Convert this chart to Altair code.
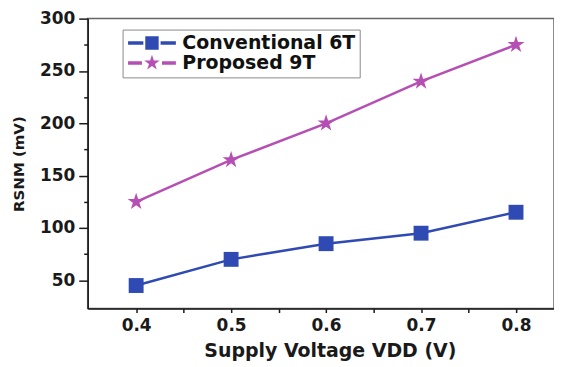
import altair as alt
import pandas as pd

# ---- data ----
vdd = [0.4, 0.5, 0.6, 0.7, 0.8]
conv_6t = [45, 70, 85, 95, 115]
prop_9t = [125, 165, 200, 240, 275]
series = ["Conventional 6T", "Proposed 9T"]
colors = ["#2F4BB3", "#B64FB3"]
x_ticks = [0.4, 0.5, 0.6, 0.7, 0.8]
x_minor = [0.45, 0.55, 0.65, 0.75]
y_ticks = [50, 100, 150, 200, 250, 300]
y_minor = [75, 125, 175, 225, 275]

df = pd.DataFrame({
    "vdd": vdd * 2,
    "rsnm": conv_6t + prop_9t,
    "series": [series[0]] * len(vdd) + [series[1]] * len(vdd),
})

FONT = "DejaVu Sans"

# marker shapes (custom SVG paths)
square = "M-0.83,-0.83H0.83V0.83H-0.83Z"
star = ("M0,-1L0.2245,-0.309L0.951,-0.309L0.363,0.118L0.588,0.809L0,0.382"
        "L-0.588,0.809L-0.363,0.118L-0.951,-0.309L-0.2245,-0.309Z")
# legend symbols: dash - marker - dash (unit = 8px, drawn to the right)
leg_square = ("M-1,-0.21H0.92V0.21H-1Z M3.08,-0.21H5V0.21H3.08Z "
              "M1.16,-0.84H2.84V0.84H1.16Z")
leg_star = ("M-1,-0.21H0.74V0.21H-1Z M3.26,-0.21H5V0.21H3.26Z "
            "M2,-1.02L2.229,-0.315L2.969,-0.315L2.37,0.12L2.6,0.825L2,0.39"
            "L1.4,0.825L1.63,0.12L1.031,-0.315L1.771,-0.315Z")

xscale = alt.Scale(domain=[0.349, 0.84], nice=False, zero=False)
yscale = alt.Scale(domain=[23, 300], nice=False, zero=False)
cscale = alt.Scale(domain=series, range=colors)

axis_common = dict(
    labelFont=FONT, labelFontWeight="bold", labelFontSize=17, labelColor="#1a1a1a",
    titleFont=FONT, titleFontWeight="bold", titleColor="#1a1a1a",
    domainColor="#1a1a1a", domainWidth=1.5, tickColor="#1a1a1a", tickWidth=1.5,
    grid=False,
)

x_major = alt.Axis(values=x_ticks, format=".1f", tickSize=4, labelPadding=5,
                   title="Supply Voltage VDD (V)", titleFontSize=19, titlePadding=8,
                   titleX=243, titleAlign="center",
                   orient="bottom", **axis_common)
y_major = alt.Axis(values=y_ticks, tickSize=9, labelPadding=4,
                   title="RSNM (mV)", titleFontSize=15, titlePadding=13,
                   orient="left", **axis_common)
x_min_axis = alt.Axis(values=x_minor, tickSize=4, labels=False, domain=False,
                      title=None, orient="bottom", grid=False,
                      tickColor="#1a1a1a", tickWidth=1.5)
y_min_axis = alt.Axis(values=y_minor, tickSize=4, labels=False, domain=False,
                      title=None, orient="left", grid=False,
                      tickColor="#1a1a1a", tickWidth=1.5)

base = alt.Chart(df)

lines = base.mark_line(strokeWidth=2.5).encode(
    x=alt.X("vdd:Q", scale=xscale, axis=x_major),
    y=alt.Y("rsnm:Q", scale=yscale, axis=y_major),
    color=alt.Color("series:N", scale=cscale, legend=None),
    detail="series:N",
)

points = base.mark_point(filled=True, opacity=1, size=324).encode(
    x=alt.X("vdd:Q", scale=xscale, axis=x_min_axis),
    y=alt.Y("rsnm:Q", scale=yscale, axis=y_min_axis),
    color=alt.Color("series:N", scale=cscale, legend=None),
    shape=alt.Shape("series:N", scale=alt.Scale(domain=series, range=[square, star]),
                    legend=None),
)

legend_props = dict(
    title=None, orient="none", legendX=35, legendY=11,
    symbolSize=256, labelFont=FONT, labelFontSize=19, labelFontWeight="bold",
    labelColor="#111111", strokeColor="#8a8a8a", fillColor="white",
    padding=4, rowPadding=0, labelOffset=37, symbolStrokeWidth=0,
    symbolOpacity=1, labelLimit=0,
)

legend_layer = base.transform_filter("false").mark_point(
    filled=True, opacity=1, size=256
).encode(
    x=alt.X("vdd:Q", scale=xscale, axis=None),
    y=alt.Y("rsnm:Q", scale=yscale, axis=None),
    color=alt.Color("series:N", scale=cscale, legend=alt.Legend(**legend_props)),
    shape=alt.Shape("series:N",
                    scale=alt.Scale(domain=series, range=[leg_square, leg_star]),
                    legend=alt.Legend(**legend_props)),
)

chart = alt.layer(lines, points, legend_layer).resolve_scale(
    color="independent", shape="independent"
).resolve_axis(
    x="independent", y="independent"
).resolve_legend(
    color="independent", shape="independent"
).properties(
    width=468, height=291, autosize="none",
    padding={"left": 80, "top": 10, "right": 0, "bottom": 58},
).configure_view(stroke="#666666", strokeWidth=1.5)

chart.save("out.html", embed_options={"renderer": "svg", "actions": False})
